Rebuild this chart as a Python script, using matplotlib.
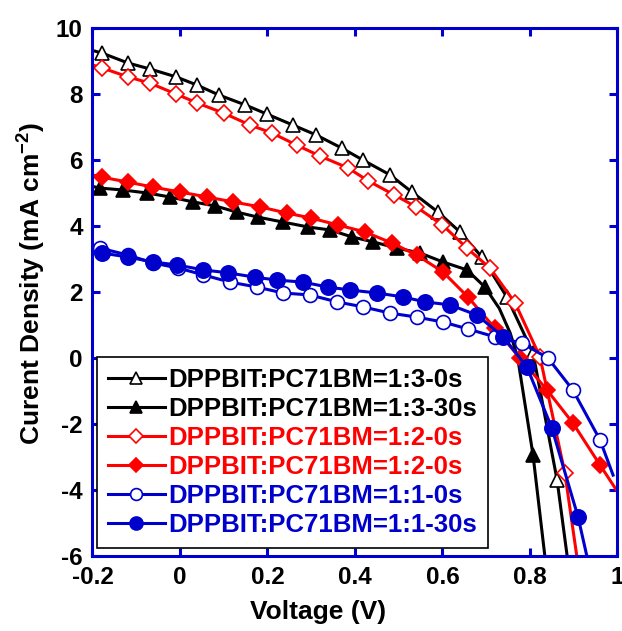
import matplotlib
matplotlib.use("Agg")
import matplotlib.pyplot as plt

plt.rcParams['font.family'] = ['Liberation Sans', 'DejaVu Sans']
plt.rcParams['font.weight'] = 'bold'
plt.rcParams['axes.unicode_minus'] = False
plt.rcParams['mathtext.fontset'] = 'custom'
plt.rcParams['mathtext.rm'] = 'Liberation Sans'
plt.rcParams['mathtext.it'] = 'Liberation Sans'

BLUE = '#0000CC'
RED = '#FF0000'

labels = ['DPPBIT:PC71BM=1:3-0s', 'DPPBIT:PC71BM=1:3-30s',
          'DPPBIT:PC71BM=1:2-0s', 'DPPBIT:PC71BM=1:2-0s',
          'DPPBIT:PC71BM=1:1-0s', 'DPPBIT:PC71BM=1:1-30s']

# 1:3 - 0s (open triangles)
v_13_0 = [-0.178, -0.119, -0.069, -0.009, 0.039, 0.089, 0.149, 0.199, 0.258, 0.311,
          0.370, 0.418, 0.48, 0.53, 0.59, 0.64, 0.69, 0.747, 0.807, 0.862]
j_13_0 = [9.24, 8.94, 8.76, 8.52, 8.27, 7.97, 7.67, 7.39, 7.06, 6.76,
          6.36, 6.0, 5.55, 5.03, 4.42, 3.82, 3.06, 1.85, 0.15, -3.7]
# 1:3 - 30s (filled triangles)
v_13_30 = [-0.183, -0.130, -0.075, -0.023, 0.03, 0.08, 0.13, 0.178, 0.235, 0.293,
           0.343, 0.393, 0.441, 0.496, 0.549, 0.601, 0.656, 0.697, 0.807]
j_13_30 = [5.15, 5.09, 5.0, 4.88, 4.73, 4.61, 4.42, 4.27, 4.12, 3.97,
           3.88, 3.67, 3.52, 3.33, 3.18, 2.91, 2.67, 2.15, -2.94]
# 1:2 - 0s (open diamonds)
v_12_0 = [-0.178, -0.119, -0.069, -0.009, 0.039, 0.10, 0.16, 0.21, 0.267, 0.32,
          0.384, 0.43, 0.49, 0.54, 0.6, 0.656, 0.709, 0.766, 0.823, 0.88]
j_12_0 = [8.79, 8.52, 8.33, 8.0, 7.73, 7.42, 7.06, 6.82, 6.45, 6.12,
          5.76, 5.37, 4.94, 4.58, 4.03, 3.33, 2.72, 1.67, 0.03, -3.5]
# 1:2 - 30s (filled diamonds)
v_12_30 = [-0.178, -0.119, -0.062, 0.0, 0.062, 0.121, 0.183, 0.245, 0.30, 0.361,
           0.423, 0.485, 0.541, 0.601, 0.658, 0.72, 0.777, 0.839, 0.898, 0.96]
j_12_30 = [5.48, 5.33, 5.18, 5.03, 4.88, 4.73, 4.58, 4.39, 4.24, 4.03,
           3.82, 3.48, 3.12, 2.61, 1.85, 0.9, 0.0, -0.97, -1.97, -3.24]
# 1:1 - 0s (open circles)
v_11_0 = [-0.183, -0.119, -0.062, -0.005, 0.053, 0.114, 0.176, 0.235, 0.297, 0.359,
          0.418, 0.48, 0.541, 0.601, 0.658, 0.72, 0.782, 0.841, 0.898, 0.96]
j_11_0 = [3.33, 3.12, 2.88, 2.73, 2.52, 2.3, 2.15, 1.97, 1.91, 1.70,
          1.55, 1.36, 1.24, 1.09, 0.88, 0.64, 0.45, 0.0, -0.97, -2.48]
# 1:1 - 30s (filled circles)
v_11_30 = [-0.178, -0.119, -0.062, -0.007, 0.053, 0.11, 0.171, 0.222, 0.281, 0.338,
           0.389, 0.45, 0.51, 0.56, 0.617, 0.679, 0.739, 0.793, 0.85, 0.91]
j_11_30 = [3.18, 3.06, 2.91, 2.82, 2.67, 2.58, 2.45, 2.36, 2.30, 2.15,
           2.06, 1.97, 1.85, 1.70, 1.61, 1.30, 0.64, -0.27, -2.12, -4.82]

# unmarked line ends (start at -0.2 V and the tails below the last marker)
heads = [(-0.2, 9.32), (-0.2, 5.2), (-0.2, 8.88), (-0.2, 5.55), (-0.2, 3.42), (-0.2, 3.22)]
tails = [
    [(0.885, -6.0)],
    [(0.834, -6.0)],
    [(0.907, -6.0)],
    [(1.0, -4.05)],
    [(0.99, -3.55)],
    [(0.93, -6.0)],
]
# knee points of the 1:3-30s curve between markers
knee_13_30 = [(0.73, 1.5), (0.755, 0.75), (0.772, 0.0)]

series = [
    (v_13_0, j_13_0, 'k', '^', 'white', 9.5),
    (v_13_30, j_13_30, 'k', '^', 'k', 9.5),
    (v_12_0, j_12_0, RED, 'D', 'white', 8.5),
    (v_12_30, j_12_30, RED, 'D', RED, 8.5),
    (v_11_0, j_11_0, BLUE, 'o', 'white', 10),
    (v_11_30, j_11_30, BLUE, 'o', BLUE, 11),
]

fig = plt.figure(figsize=(6.22, 6.31), dpi=100)
ax = fig.add_axes([0.1487, 0.1189, 0.844, 0.8367])

for i, (v, j, c, m, fc, ms) in enumerate(series):
    vv = [heads[i][0]] + list(v)
    jj = [heads[i][1]] + list(j)
    n = len(vv)
    if i == 1:
        # insert the knee points before the last marker
        vv = vv[:-1] + [p[0] for p in knee_13_30] + vv[-1:]
        jj = jj[:-1] + [p[1] for p in knee_13_30] + jj[-1:]
        marks = list(range(1, n - 1)) + [len(vv) - 1]
    else:
        marks = list(range(1, n))
    vv += [p[0] for p in tails[i]]
    jj += [p[1] for p in tails[i]]
    ax.plot(vv, jj, color=c, lw=2.2, marker=m, ms=ms, mfc=fc, mec=c, mew=1.2,
            markevery=marks, label=labels[i])

ax.set_xlim(-0.2, 1.0)
ax.set_ylim(-6, 10)
ax.set_xticks([-0.2, 0, 0.2, 0.4, 0.6, 0.8, 1.0])
ax.set_xticklabels(['-0.2', '0', '0.2', '0.4', '0.6', '0.8', '1'])
ax.set_yticks([-6, -4, -2, 0, 2, 4, 6, 8, 10])
ax.set_yticklabels(['-6', '-4', '-2', '0', '2', '4', '6', '8', '10'])

for s in ax.spines.values():
    s.set_color(BLUE)
    s.set_linewidth(2.2)
ax.tick_params(direction='in', length=6, width=2.2, color=BLUE, top=True, right=True,
               labelsize=17.5, pad=7)

ax.set_xlabel('Voltage (V)', fontsize=19, fontweight='bold', labelpad=8, x=0.43)
ax.set_ylabel('Curent Density (mA cm$^{-2}$)', fontsize=19, fontweight='bold',
              labelpad=6, y=0.517)

leg = ax.legend(loc='lower left', bbox_to_anchor=(0.009, 0.015), borderaxespad=0,
                fontsize=18.5, frameon=True, fancybox=False, edgecolor='k',
                handlelength=2.2, handletextpad=0.15, labelspacing=0.2,
                borderpad=0.42, labelcolor='linecolor', markerscale=0.85)
leg.get_frame().set_linewidth(1.2)
leg.get_frame().set_alpha(1)

fig.savefig('out.png', dpi=100)
